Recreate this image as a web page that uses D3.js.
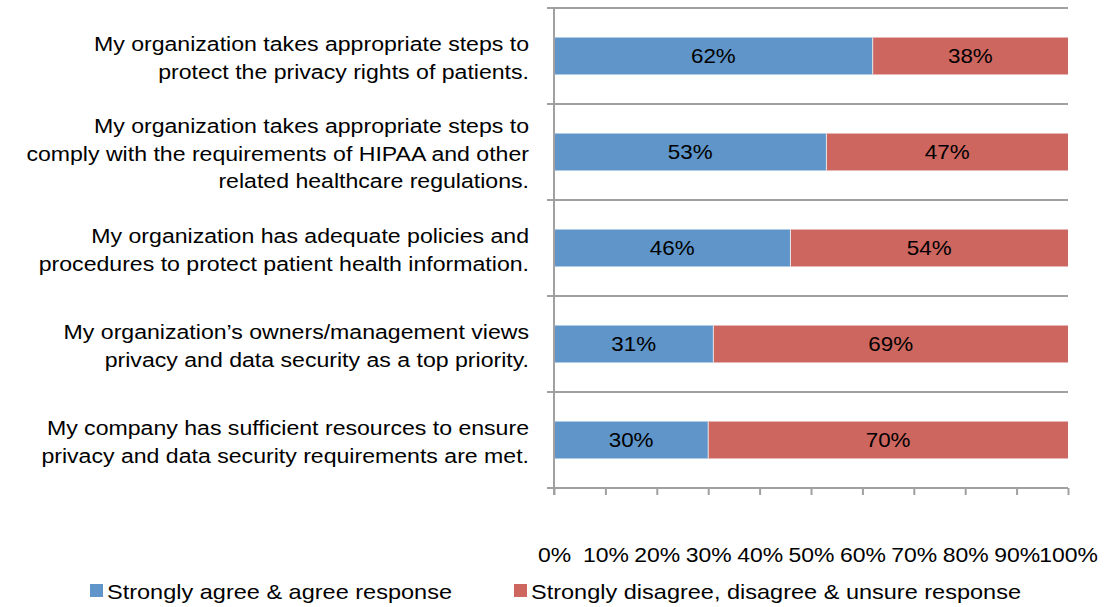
<!DOCTYPE html>
<html>
<head>
<meta charset="utf-8">
<script src="https://cdn.jsdelivr.net/npm/d3@7"></script>
<style>
  html, body { margin: 0; padding: 0; background: #fff; }
  svg text { font-family: "Liberation Sans", Arial, sans-serif; fill: #000; }
</style>
</head>
<body>
<svg id="chart" width="1104" height="607"></svg>
<script>
// Survey statements (top to bottom), each label split into its display lines
const statements = [
  ["My organization takes appropriate steps to", "protect the privacy rights of patients."],
  ["My organization takes appropriate steps to", "comply with the requirements of HIPAA and other", "related healthcare regulations."],
  ["My organization has adequate policies and", "procedures to protect patient health information."],
  ["My organization\u2019s owners/management views", "privacy and data security as a top priority."],
  ["My company has sufficient resources to ensure", "privacy and data security requirements are met."]
];
const agree = [62, 53, 46, 31, 30];
const disagree = [38, 47, 54, 69, 70];
const seriesNames = ["Strongly agree & agree response", "Strongly disagree, disagree & unsure response"];
const seriesColors = ["#5f95c8", "#cd665f"];
const xTicks = [0, 10, 20, 30, 40, 50, 60, 70, 80, 90, 100];

const svg = d3.select("#chart");
const plotLeft = 554, plotRight = 1068, plotTop = 8, plotBottom = 488;
const stretchX = 1.1;   // text is set slightly wide
const sx = `scale(${stretchX},1)`;

const x = d3.scaleLinear().domain([0, 100]).range([plotLeft, plotRight]);
const y = d3.scaleBand().domain(d3.range(statements.length)).range([plotTop, plotBottom]).paddingInner(0.615).paddingOuter(0.3075);
const band = d3.scaleBand().domain(d3.range(statements.length)).range([plotTop, plotBottom]);

const gridColor = "#a0a0a0";

// Category separators (the category axis' tick lines running across the plot)
svg.append("g").selectAll("line")
  .data(d3.range(statements.length))
  .join("line")
  .attr("x1", plotLeft - 7).attr("x2", plotRight)
  .attr("y1", i => band(i)).attr("y2", i => band(i))
  .attr("stroke", gridColor).attr("stroke-width", 2);

// Stacked bars
const rows = agree.map((a, i) => ({ i, parts: [[0, a], [a, a + disagree[i]]] }));
const barG = svg.append("g");
rows.forEach(r => {
  r.parts.forEach((p, s) => {
    barG.append("rect")
      .attr("x", x(p[0]))
      .attr("y", y(r.i))
      .attr("width", x(p[1]) - x(p[0]))
      .attr("height", y.bandwidth())
      .attr("fill", seriesColors[s]);
    const cx = (x(p[0]) + x(p[1])) / 2, cy = y(r.i) + y.bandwidth() / 2;
    barG.append("text")
      .attr("transform", `translate(${cx},${cy}) scale(1.12,1)`)
      .attr("dy", "0.35em")
      .attr("text-anchor", "middle")
      .attr("font-size", 20)
      .text((p[1] - p[0]) + "%");
  });
  // thin separator between segments
  barG.append("line")
    .attr("x1", x(r.parts[0][1])).attr("x2", x(r.parts[0][1]))
    .attr("y1", y(r.i)).attr("y2", y(r.i) + y.bandwidth())
    .attr("stroke", "#e6e6e6").attr("stroke-width", 1);
});

// Bottom value axis
const xAxis = d3.axisBottom(x).tickValues(xTicks).tickFormat(d => d + "%").tickSize(7).tickPadding(52);
const gx = svg.append("g").attr("transform", `translate(0,${plotBottom})`).call(xAxis);
gx.select(".domain").attr("stroke", gridColor).attr("stroke-width", 2).attr("d", `M${plotLeft - 7},0H${plotRight}`);
gx.selectAll(".tick line").attr("stroke", gridColor).attr("stroke-width", 2);
gx.selectAll(".tick text").attr("font-size", 20.5).attr("fill", "#000")
  .attr("font-family", "'Liberation Sans', Arial, sans-serif")
  .attr("transform", "scale(1.12,1)");

// Vertical category axis line
svg.append("line")
  .attr("x1", plotLeft).attr("x2", plotLeft)
  .attr("y1", plotTop).attr("y2", plotBottom + 7)
  .attr("stroke", gridColor).attr("stroke-width", 2);

// Category labels, right-aligned and centred on each band
const lineH = 27.5;
statements.forEach((lines, i) => {
  const cy = band(i) + band.bandwidth() / 2 + 1.5;
  const t = svg.append("text")
    .attr("transform", `translate(529,0) ${sx}`)
    .attr("text-anchor", "end")
    .attr("font-size", 21);
  lines.forEach((ln, k) => {
    t.append("tspan")
      .attr("x", 0)
      .attr("y", cy + (k - (lines.length - 1) / 2) * lineH)
      .attr("dy", "0.35em")
      .text(ln);
  });
});

// Legend
const legendX = [90, 514];
const legend = svg.append("g");
seriesNames.forEach((name, s) => {
  legend.append("rect")
    .attr("x", legendX[s]).attr("y", 584)
    .attr("width", 13).attr("height", 13)
    .attr("fill", seriesColors[s]);
  legend.append("text")
    .attr("transform", `translate(${legendX[s] + 17},592) scale(1.12,1)`)
    .attr("dy", "0.35em")
    .attr("font-size", 21)
    .text(name);
});
</script>
</body>
</html>
